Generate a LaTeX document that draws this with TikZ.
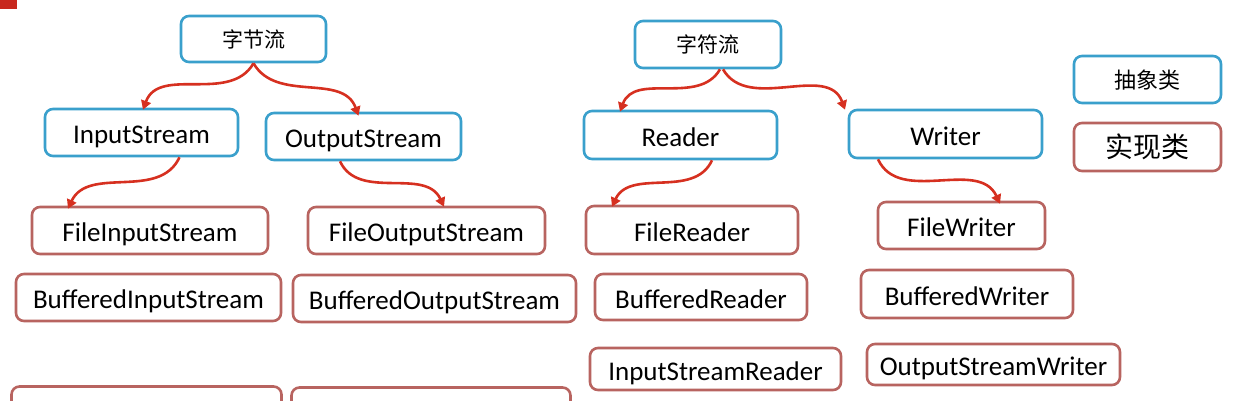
\documentclass[tikz,border=0pt]{standalone}
\usepackage{fontspec}
\setmainfont{Carlito}
\newfontfamily\cjk{Noto Sans CJK SC}
\usetikzlibrary{arrows.meta}
\definecolor{absblue}{RGB}{58,160,204}
\definecolor{implred}{RGB}{184,100,96}
\definecolor{arrred}{RGB}{214,48,32}
\definecolor{markred}{RGB}{200,40,30}
\begin{document}
\begin{tikzpicture}[x=1pt,y=-1pt,
  basebox/.style={draw, line width=2.6pt, rounded corners=8pt, inner sep=0pt, fill=white},
  absbox/.style={basebox, draw=absblue},
  implbox/.style={basebox, draw=implred},
  lbl/.style={font=\fontsize{27}{30}\selectfont, text height=23pt, text depth=1pt},
  cjklbl/.style={font=\cjk\fontsize{21}{24}\selectfont, text height=18pt, text depth=2pt},
  arr/.style={draw=arrred, line width=2.6pt, -{Triangle[length=9pt,width=10pt]}}
]
\useasboundingbox (0,0) rectangle (1246,400);
\path[fill=markred] (0,0) rectangle (17,9);

% byte streams
\node[absbox, cjklbl, minimum width=145, minimum height=46] (zj) at (253.5,39) {字节流};
\node[absbox, lbl, minimum width=193, minimum height=47] (is) at (141.5,132.5) {InputStream};
\node[absbox, lbl, minimum width=195, minimum height=47] (os) at (363.5,136.5) {OutputStream};
\node[implbox, lbl, minimum width=236, minimum height=47] (fis) at (150,230.5) {FileInputStream};
\node[implbox, lbl, minimum width=237, minimum height=47] (fos) at (426.5,230.5) {FileOutputStream};
\node[implbox, lbl, minimum width=265, minimum height=47] (bis) at (148.5,297.5) {BufferedInputStream};
\node[implbox, lbl, minimum width=283, minimum height=47] (bos) at (434.5,298.5) {BufferedOutputStream};

% char streams
\node[absbox, cjklbl, minimum width=146, minimum height=47] (zf) at (708,44.5) {字符流};
\node[absbox, lbl, minimum width=193, minimum height=48] (rd) at (680.5,135) {Reader};
\node[absbox, lbl, minimum width=193, minimum height=48] (wr) at (945.5,134) {Writer};
\node[implbox, lbl, minimum width=212, minimum height=48] (fr) at (692,230) {FileReader};
\node[implbox, lbl, minimum width=167, minimum height=47] (fw) at (961.5,225.5) {FileWriter};
\node[implbox, lbl, minimum width=212, minimum height=46] (br) at (701,297) {BufferedReader};
\node[implbox, lbl, minimum width=212, minimum height=48] (bw) at (967,294) {BufferedWriter};
\node[implbox, lbl, minimum width=251, minimum height=42] (isr) at (715.5,369) {InputStreamReader};
\node[implbox, lbl, minimum width=253, minimum height=41] (osw) at (993.5,364.5) {OutputStreamWriter};

% legend
\node[absbox, font=\cjk\fontsize{22}{25}\selectfont, text height=19pt, text depth=2pt, minimum width=147, minimum height=47] (abs) at (1147.5,79.5) {抽象类};
\node[implbox, font=\cjk\fontsize{28}{31}\selectfont, text height=24pt, text depth=3pt, minimum width=147, minimum height=48] (imp) at (1147.5,147) {实现类};

% cut-off boxes at the bottom
\begin{scope}
  \clip (0,0) rectangle (1246,400);
  \draw[implred, line width=2.6pt, rounded corners=8pt] (11.5,386.5) rectangle (281.5,440);
  \draw[implred, line width=2.6pt, rounded corners=8pt] (291.5,387.5) rectangle (570.5,440);
\end{scope}

% connectors
\draw[arr] (zj.south) to[out=-120, in=70] ([xshift=1.5,yshift=-2]is.north);
\draw[arr] (zj.south) to[out=-60, in=110] ([xshift=-5,yshift=-4]os.north);
\draw[arr] ([xshift=38]is.south) to[out=-115, in=65] ([xshift=-82,yshift=-3]fis.north);
\draw[arr] ([xshift=-23.5]os.south) to[out=-65, in=115] ([xshift=17.5,yshift=-1]fos.north);
\draw[arr] ([xshift=12]zf.south) to[out=-120, in=70] ([xshift=-60.5,yshift=-2]rd.north);
\draw[arr] ([xshift=15]zf.south) to[out=-60, in=110] ([xshift=-100.5,yshift=-1]wr.north);
\draw[arr] ([xshift=31.5]rd.south) to[out=-115, in=65] ([xshift=-80,yshift=-2]fr.north);
\draw[arr] ([xshift=-67.5]wr.south) to[out=-65, in=115] ([xshift=38.5,yshift=-3]fw.north);
\end{tikzpicture}
\end{document}
